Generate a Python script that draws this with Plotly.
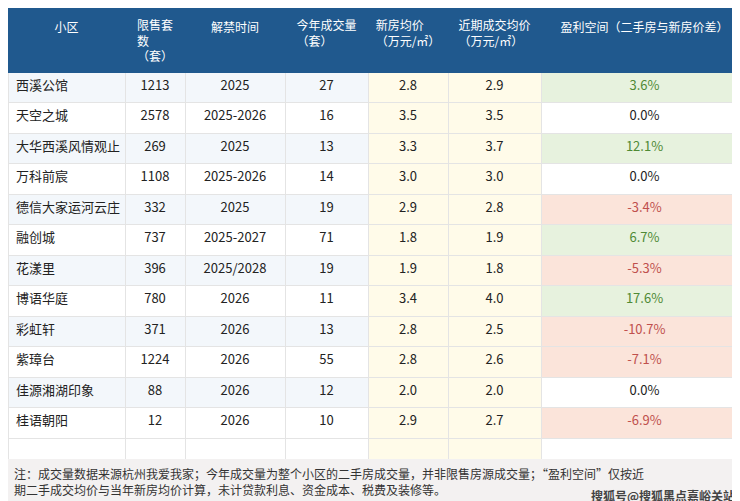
import plotly.graph_objects as go

names = ["西溪公馆","天空之城","大华西溪风情观止","万科前宸","德信大家运河云庄","融创城","花漾里","博语华庭","彩虹轩","紫璋台","佳源湘湖印象","桂语朝阳"]
limit_units = [1213,2578,269,1108,332,737,396,780,371,1224,88,12]
unlock = ["2025","2025-2026","2025","2025-2026","2025","2025-2027","2025/2028","2026","2026","2026","2026","2026"]
deals = [27,16,13,14,19,71,19,11,13,55,12,10]
new_price = [2.8,3.5,3.3,3.0,2.9,1.8,1.9,3.4,2.8,2.8,2.0,2.9]
recent_price = [2.9,3.5,3.7,3.0,2.8,1.9,1.8,4.0,2.5,2.6,2.0,2.7]
profit = [3.6,0.0,12.1,0.0,-3.4,6.7,-5.3,17.6,-10.7,-7.1,0.0,-6.9]
headers = ["<br>小区","限售套<br>数<br>（套）","<br>解禁时间","今年成交量<br>（套）","新房均价<br>（万元/㎡）","近期成交均价<br>（万元/㎡）","<br>盈利空间（二手房与新房价差）"]

n = len(names)
rowbg = ["#f3f7fb" if i % 2 == 0 else "#ffffff" for i in range(n)] + ["#ffffff"]
yel = ["#fffbe9"] * (n + 1)
pf_fill = [("#e7f2de" if p > 0 else "#fbe4da" if p < 0 else "#ffffff") for p in profit] + ["#ffffff"]
pf_col = [("#4f8a35" if p > 0 else "#c0504d" if p < 0 else "#222222") for p in profit] + ["#222"]

cols = [names + [""], [str(v) for v in limit_units] + [""], unlock + [""], [str(v) for v in deals] + [""],
        [f"{v:.1f}" for v in new_price] + [""], [f"{v:.1f}" for v in recent_price] + [""],
        [f"{v:.1f}%" for v in profit] + [""]]

fig = go.Figure(go.Table(
    columnwidth=[117, 60, 100, 83, 80, 93, 207],
    header=dict(values=headers, fill_color="#20598e", line_color="#20598e",
                font=dict(color="white", size=12, family="Noto Sans CJK SC"),
                align="center", height=20),
    cells=dict(values=cols,
               fill_color=[rowbg, rowbg, rowbg, rowbg, yel, yel, pf_fill],
               line=dict(color="#e4e4e4", width=1),
               font=dict(color=[["#222"]*(n+1)]*6 + [pf_col], size=13, family="Noto Sans CJK SC"),
               align=["left"] + ["center"]*6, height=30.5),
    domain=dict(x=[0, 1], y=[0, 1])))

fig.add_shape(type="rect", xref="paper", yref="paper", x0=0, x1=1, y0=0, y1=0.1,
              fillcolor="#f3f1f1", line_width=0, layer="above")
fig.add_annotation(xref="paper", yref="paper", x=0.005, y=0.092, xanchor="left", yanchor="top", showarrow=False,
                   align="left", font=dict(size=12, color="#333", family="Noto Sans CJK SC"),
                   text="注：成交量数据来源杭州我爱我家；今年成交量为整个小区的二手房成交量，并非限售房源成交量；“盈利空间”仅按近<br>期二手成交均价与当年新房均价计算，未计贷款利息、资金成本、税费及装修等。")
fig.add_annotation(xref="paper", yref="paper", x=0.985, y=0.006, xanchor="right", yanchor="bottom", showarrow=False,
                   font=dict(size=12, color="#444", family="Noto Sans CJK SC"), text="<b>搜狐号@搜狐黑点嘉峪关站</b>")
fig.update_layout(width=740, height=501, margin=dict(l=0, r=0, t=0, b=0), paper_bgcolor="white")
fig.write_html("out.html")
